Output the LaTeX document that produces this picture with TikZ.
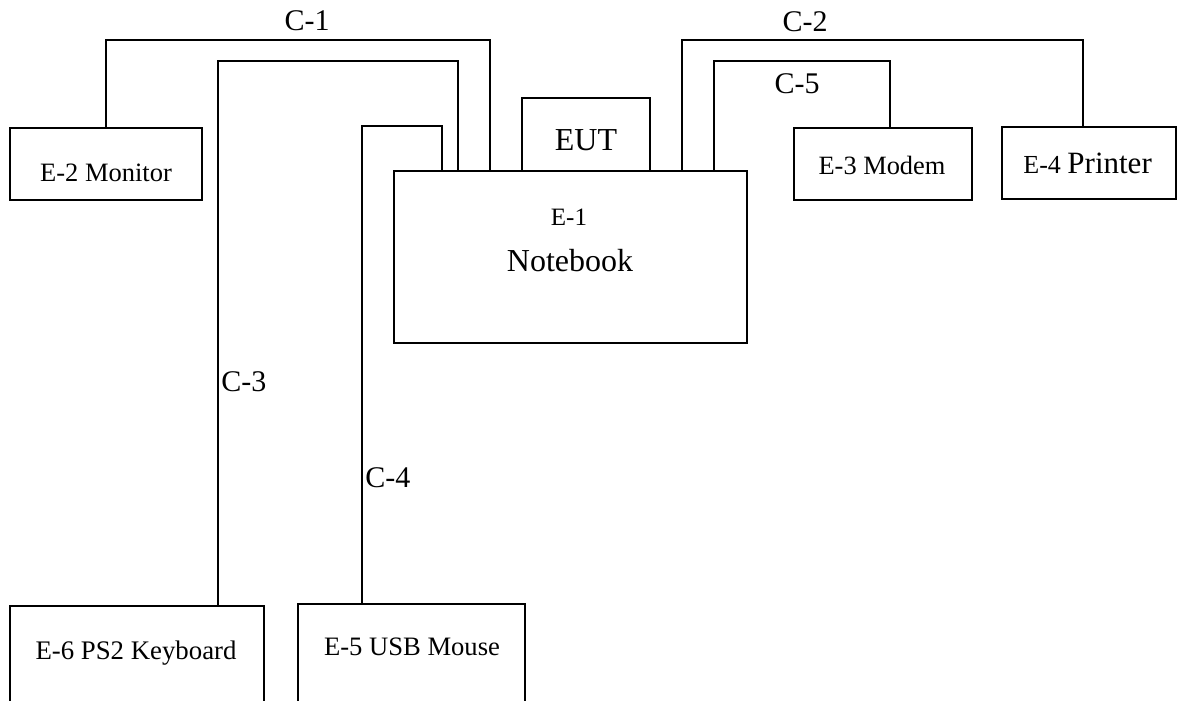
\documentclass[tikz,border=0pt]{standalone}
\usepackage{fontspec}
\setmainfont{Liberation Serif}
\usetikzlibrary{fit}

\newcommand{\fs}[1]{\fontsize{#1}{1.2\dimexpr#1\relax}\selectfont}

\begin{document}
\begin{tikzpicture}[x=0.5pt, y=-0.5pt,
  box/.style={draw, line width=1pt, inner sep=0pt, rectangle},
  wire/.style={draw, line width=1pt},
  txt/.style={inner sep=0pt, anchor=base},
  lbl/.style={inner sep=0pt, anchor=base, font=\fs{15pt}}]
\useasboundingbox (0,0) rectangle (1178,701);
\clip (0,0) rectangle (1178,701);

% equipment boxes
\node[box, fit={(10,128) (202,200)}] (monitor) {};
\node[box, fit={(522,98) (650,171)}] (eut) {};
\node[box, fit={(394,171) (747,343)}] (nb) {};
\node[box, fit={(794,128) (972,200)}] (modem) {};
\node[box, fit={(1002,127) (1176,199)}] (printer) {};
\node[box, fit={(10,606) (264,740)}] (kbd) {};
\node[box, fit={(298,604) (525,740)}] (mouse) {};

% box texts
\node[txt, font=\fs{13.25pt}] (tmonitor) at (106,182) {E-2 Monitor};
\node[txt, font=\fs{16pt}] (teut) at (586,150) {EUT};
\node[txt, font=\fs{12.5pt}] (te1) at (569,225) {E-1};
\node[txt, font=\fs{16pt}] (tnb) at (570,271) {Notebook};
\node[txt, font=\fs{13.2pt}] (tmodem) at (882,175) {E-3 Modem};
\node[txt, anchor=base west, font=\fs{13pt}] (tprinter) at (1023,174) {E-4 {\fs{15.5pt}Printer}};
\node[txt, font=\fs{13.4pt}] (tkbd) at (136,659) {E-6 PS2 Keyboard};
\node[txt, font=\fs{13.3pt}] (tmouse) at (412,655) {E-5 USB Mouse};

% cable bends
\coordinate (c1) at (490,40);
\coordinate (c2a) at (682,40);
\coordinate (c2b) at (1083,40);
\coordinate (c3a) at (218,61);
\coordinate (c3b) at (458,61);
\coordinate (c4a) at (362,126);
\coordinate (c4b) at (442,126);
\coordinate (c5a) at (714,61);
\coordinate (c5b) at (890,61);

% cables
\draw[wire] (monitor.north) |- (c1) -- (c1 |- nb.north);
\draw[wire] (nb.north -| c2a) -- (c2a) -- (c2b) -- (c2b |- printer.north);
\draw[wire] (kbd.north -| c3a) -- (c3a) -- (c3b) -- (c3b |- nb.north);
\draw[wire] (mouse.north -| c4a) -- (c4a) -- (c4b) -- (c4b |- nb.north);
\draw[wire] (nb.north -| c5a) -- (c5a) -- (c5b) -- (c5b |- modem.north);

% cable labels
\node[lbl] (l1) at (307,31) {C-1};
\node[lbl] (l2) at (805,32) {C-2};
\node[lbl, anchor=base west] (l3) at (221,391) {C-3};
\node[lbl, anchor=base west] (l4) at (365,487) {C-4};
\node[lbl] (l5) at (797,94) {C-5};
\end{tikzpicture}
\end{document}
